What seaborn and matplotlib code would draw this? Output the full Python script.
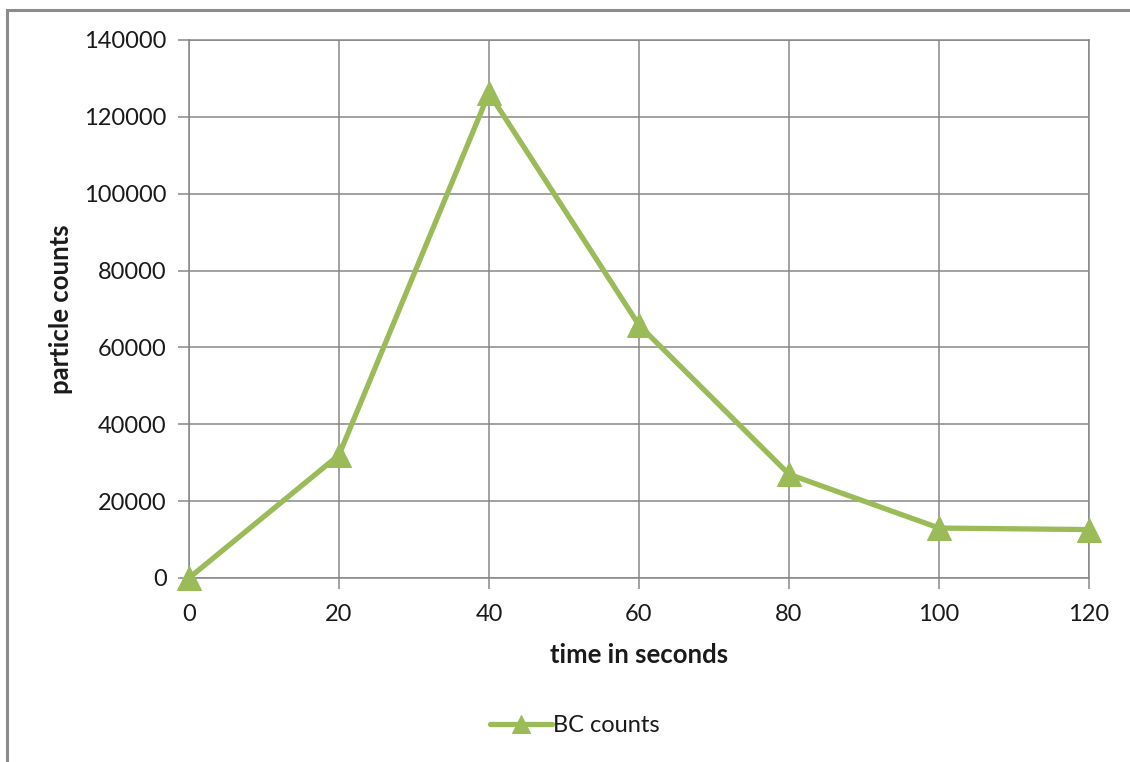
import matplotlib
matplotlib.use("Agg")
import matplotlib.pyplot as plt
import seaborn as sns
import pandas as pd
from matplotlib.patches import Rectangle

# Measurement series
time_s = [0, 20, 40, 60, 80, 100, 120]
bc_counts = [0, 32000, 126200, 65800, 27000, 13000, 12600]
x_ticks = [0, 20, 40, 60, 80, 100, 120]
y_ticks = [0, 20000, 40000, 60000, 80000, 100000, 120000, 140000]

series_name = "BC counts"
green = "#9BBB59"
grid_grey = "#878787"

sns.set_theme(style="white")
plt.rcParams["font.family"] = ["Lato", "DejaVu Sans"]

df = pd.DataFrame({"time": time_s, "counts": bc_counts, "series": series_name})

fig = plt.figure(figsize=(11.3, 7.62), dpi=100)
ax = fig.add_axes([189 / 1130, 1 - 578 / 762, 900 / 1130, 538 / 762])

# Chart frame
fig.patches.append(Rectangle((7 / 1130, -0.05), 1.2, 1 - 10 / 762 + 0.05,
                             transform=fig.transFigure, fill=False,
                             edgecolor="#8c8c8c", linewidth=2.2, zorder=0))

sns.lineplot(data=df, x="time", y="counts", hue="series", palette=[green],
             marker="^", markersize=17, markeredgecolor=green, linewidth=3.8,
             ax=ax, clip_on=False, zorder=5)

ax.set_xlim(0, 120)
ax.set_ylim(0, 140000)
ax.set_xticks(x_ticks)
ax.set_yticks(y_ticks)
ax.set_xticklabels([str(v) for v in x_ticks])
ax.set_yticklabels([str(v) for v in y_ticks])
ax.grid(True, color=grid_grey, linewidth=1.1)
for s in ax.spines.values():
    s.set_visible(True)
    s.set_color(grid_grey)
    s.set_linewidth(1.1)
ax.tick_params(axis="both", which="major", length=8, width=1.1, color=grid_grey,
               labelsize=17, labelcolor="#1a1a1a", direction="out",
               left=True, bottom=True)
ax.tick_params(axis="y", pad=8)
ax.tick_params(axis="x", pad=11)

ax.set_xlabel("time in seconds", fontsize=18.5, fontweight="bold", color="#1a1a1a", labelpad=13)
ax.set_ylabel("particle counts", fontsize=18.5, fontweight="bold", color="#1a1a1a", labelpad=8)

leg = ax.legend(loc="center", bbox_to_anchor=(575 / 1130, 1 - 726 / 762),
                bbox_transform=fig.transFigure, frameon=False, fontsize=17,
                handlelength=2.6, handletextpad=0.05, markerscale=0.75)
for t in leg.get_texts():
    t.set_color("#1a1a1a")

fig.savefig("out.png", dpi=100)
